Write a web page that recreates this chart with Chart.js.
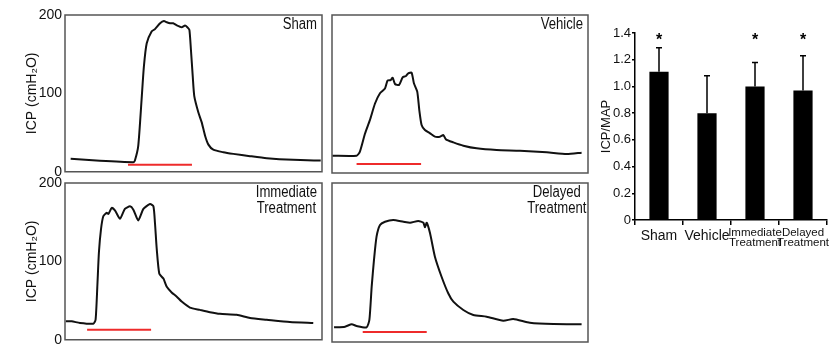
<!DOCTYPE html>
<html><head><meta charset="utf-8">
<script src="https://cdn.jsdelivr.net/npm/chart.js@4/dist/chart.umd.min.js"></script>
<style>
html,body{margin:0;padding:0;background:#fff;width:840px;height:348px;overflow:hidden}
body{position:relative}
canvas{position:absolute}
</style></head><body>
<canvas id="pSham" width="330" height="180" style="left:0;top:0"></canvas>
<canvas id="pVehicle" width="270" height="180" style="left:325px;top:0"></canvas>
<canvas id="pImmediate" width="330" height="178" style="left:0;top:170px"></canvas>
<canvas id="pDelayed" width="270" height="178" style="left:325px;top:170px"></canvas>
<canvas id="pBar" width="260" height="250" style="left:580px;top:0"></canvas>
<script>
// ---- ICP traces (time in % of recording window, ICP in cmH2O) ----
const shamTime = [2.2,13.6,26.6,27.2,28.5,29.8,30.7,31.8,33.7,35,37,38.5,39.6,40.9,42.1,43.4,45.4,46.7,47.6,48.4,49,49.7,50.3,51.9,53.2,54.5,55.8,57.7,61.6,65.5,72,78.5,88.8,99.5];
const shamICP = [16.5,13.9,12.2,14.3,33,92,134.5,164,179,182,189.5,192.4,190.8,189.5,189.5,187,184.4,186.5,184.4,181,155.7,122,96.6,75.6,63,46,34.6,28.2,24.9,22.8,19.9,17.3,15.2,14.3];

const vehicleTime = [0.1,9.6,10.9,12.9,14.8,16.8,18.75,20.7,21.7,22.9,23.7,24.6,26.2,27.6,28.9,29.8,31.1,32,33.3,34.1,35,36.3,38.3,40.2,42.2,43.5,44.5,47.4,51.3,56.5,64.3,73.4,83.9,91.7,97.5];
const vehicleICP = [21.9,21.9,27,50,67,88,101,107,117,117.7,120.6,112.7,111.4,121,122.8,126.2,127,113.5,103,79.7,60.8,54.4,50.2,46,46,48,42.6,38.8,34.6,31.2,29.1,28.2,26.2,24,25.7];

const immediateTime = [0.3,2.6,5.8,11,11.9,12.6,13.2,14,14.9,16.2,16.9,18.2,19.5,21.4,23.3,25.3,26.6,28.5,30.5,33.1,34.4,35,35.7,36.7,38.3,39.6,41.5,43.5,45.4,48.6,52.5,56.4,60.3,66.8,72,78.5,87.5,96.6];
const immediateICP = [23.5,23.5,21.4,20.5,25.5,69.6,111.6,140.9,157.6,161.9,160.6,168.2,164.8,154.3,166.9,170.2,166,152.2,166.9,173.2,170.2,149.3,115.7,84.3,78,67.5,60.4,55,48.7,41.1,38.1,35.2,33.1,31.8,27.7,25.5,22.6,21.4];

const delayedTime = [0.8,5.1,7.7,9.6,13.5,14.6,15.5,16.4,17.4,18.75,20.7,23.9,27.9,30.5,33.7,35.7,36.3,37,38.3,40.2,42.8,45.4,47.4,51.3,55.2,60.4,66.9,70.8,77.3,86.5,97.5];
const delayedICP = [18.5,19.3,22.3,20.1,18.5,27.7,69.6,103.2,132.5,147.2,151.3,153.5,151.3,150,152.2,150,144.3,150,136.7,107.3,82.1,61.3,50.7,40.3,34,31.8,26.8,28.9,24.3,22.6,22.3];

// red bars marking the infusion period: [start, end] time and level
const shamMark = [24.5, 49.4], shamMarkLevel = 9;
const vehicleMark = [9.6, 34.8], vehicleMarkLevel = 11.4;
const immediateMark = [8.6, 33.5], immediateMarkLevel = 12.6;
const delayedMark = [12, 37], delayedMarkLevel = 12.6;

const icpTicks = [0, 100, 200];

// ---- ICP/MAP bar chart ----
const groups = ['Sham', 'Vehicle', ['Immediate', 'Treatment'], ['Delayed', 'Treatment']];
const ratioMean = [1.11, 0.80, 1.00, 0.97];
const ratioErr = [0.18, 0.28, 0.18, 0.26];
const significant = [true, false, true, true];
const starLevel = 1.34;

const F = "'Liberation Sans', Arial, sans-serif";
Chart.defaults.font.family = F;
Chart.defaults.color = '#111';

const frame = {
  id: 'frame',
  afterDraw(chart) {
    const {ctx, chartArea: a} = chart;
    ctx.save();
    ctx.strokeStyle = '#555';
    ctx.lineWidth = 1.5;
    ctx.strokeRect(a.left, a.top, a.right - a.left, a.bottom - a.top);
    ctx.restore();
  }
};
const NARROW = 0.82;
const cornerLabel = {
  id: 'cornerLabel',
  afterDraw(chart, args, opts) {
    const {ctx, chartArea: a} = chart;
    const lines = opts.lines;
    ctx.save();
    ctx.font = '16px ' + F;
    ctx.fillStyle = '#111';
    ctx.textBaseline = 'top';
    ctx.textAlign = 'center';
    const w = Math.max(...lines.map(l => ctx.measureText(l).width)) * NARROW;
    const cx = a.right - opts.inset - w / 2;
    lines.forEach((l, i) => {
      ctx.save();
      ctx.translate(cx, a.top + 2 + i * 15.5);
      ctx.scale(NARROW, 1);
      ctx.fillText(l, 0, 0);
      ctx.restore();
    });
    ctx.restore();
  }
};

function panel(id, time, icp, mark, markLevel, lines, showY, pad, inset) {
  const yScale = {
    min: 0, max: 200, display: showY,
    afterBuildTicks: s => { s.ticks = icpTicks.map(v => ({value: v})); },
    grid: { display: false, drawTicks: false },
    border: { display: false },
    ticks: { padding: 3, font: { size: 14, lineHeight: 0.75 }, color: '#111' },
    title: { display: true, text: 'ICP (cmH₂O)', font: { size: 14 }, color: '#111', padding: { top: 23.5, bottom: 0 } }
  };
  if (showY) yScale.afterFit = s => { s.width = 65; };
  new Chart(document.getElementById(id), {
    type: 'line',
    data: {
      datasets: [
        { data: time.map((t, i) => ({x: t, y: icp[i]})), borderColor: '#111', borderWidth: 2, pointRadius: 0, tension: 0.2 },
        { data: mark.map(t => ({x: t, y: markLevel})), borderColor: '#ee2b2b', borderWidth: 2, pointRadius: 0 }
      ]
    },
    options: {
      responsive: false, animation: false, events: [],
      layout: { padding: pad },
      plugins: { legend: {display: false}, tooltip: {enabled: false}, cornerLabel: {lines, inset} },
      scales: {
        x: { type: 'linear', min: 0, max: 100, display: false },
        y: yScale
      }
    },
    plugins: [frame, cornerLabel]
  });
}

panel('pSham', shamTime, shamICP, shamMark, shamMarkLevel, ['Sham'], true, {top: 15, bottom: 7, left: 0, right: 8}, 5);
panel('pVehicle', vehicleTime, vehicleICP, vehicleMark, vehicleMarkLevel, ['Vehicle'], false, {top: 15, bottom: 7, left: 7, right: 7}, 5);
panel('pImmediate', immediateTime, immediateICP, immediateMark, immediateMarkLevel, ['Immediate', 'Treatment'], true, {top: 13, bottom: 6, left: 0, right: 8}, 5);
panel('pDelayed', delayedTime, delayedICP, delayedMark, delayedMarkLevel, ['Delayed', 'Treatment'], false, {top: 13, bottom: 6, left: 7, right: 7}, 1.5);

const barExtras = {
  id: 'barExtras',
  afterDatasetsDraw(chart) {
    const {ctx} = chart;
    const xs = chart.scales.x, ys = chart.scales.y;
    ctx.save();
    ctx.strokeStyle = '#000';
    ctx.lineWidth = 1.5;
    ratioMean.forEach((m, i) => {
      const x = xs.getPixelForValue(i);
      const y0 = ys.getPixelForValue(m);
      const y1 = ys.getPixelForValue(m + ratioErr[i]);
      ctx.beginPath();
      ctx.moveTo(x, y0); ctx.lineTo(x, y1);
      ctx.moveTo(x - 3, y1); ctx.lineTo(x + 3, y1);
      ctx.stroke();
    });
    ctx.fillStyle = '#000';
    ctx.font = 'bold 16px ' + F;
    ctx.textAlign = 'center';
    ctx.textBaseline = 'middle';
    significant.forEach((s, i) => {
      if (s) ctx.fillText('*', xs.getPixelForValue(i), ys.getPixelForValue(starLevel));
    });
    ctx.restore();
  }
};

new Chart(document.getElementById('pBar'), {
  type: 'bar',
  data: { labels: groups, datasets: [{ data: ratioMean, backgroundColor: '#000', barPercentage: 0.4, categoryPercentage: 1 }] },
  options: {
    responsive: false, animation: false, events: [],
    layout: { padding: { top: 33, right: 13, bottom: 0, left: 0 } },
    plugins: { legend: {display: false}, tooltip: {enabled: false} },
    scales: {
      x: {
        afterFit: s => { s.height = 30; },
        grid: { display: true, drawOnChartArea: false, tickLength: 5, color: '#000', lineWidth: 1.5, offset: true },
        border: { color: '#000', width: 1.5 },
        ticks: {
          autoSkip: false, maxRotation: 0, minRotation: 0, padding: 2.5, color: '#111',
          font: c => Array.isArray(groups[c.index]) ? { size: 11.5, lineHeight: 0.88 } : { size: 14, lineHeight: 1.2 }
        }
      },
      y: {
        min: 0, max: 1.4,
        afterFit: s => { s.width = 55; },
        grid: { display: true, drawOnChartArea: false, tickLength: 3, color: '#000', lineWidth: 1.5 },
        border: { color: '#000', width: 1.5 },
        ticks: { stepSize: 0.2, padding: 1, color: '#111', font: { size: 13 }, callback: v => v === 0 ? '0' : Number(v).toFixed(1) },
        title: { display: true, text: 'ICP/MAP', font: { size: 13 }, color: '#111', padding: { top: 19, bottom: 0 } }
      }
    }
  },
  plugins: [barExtras]
});
</script>
</body></html>
